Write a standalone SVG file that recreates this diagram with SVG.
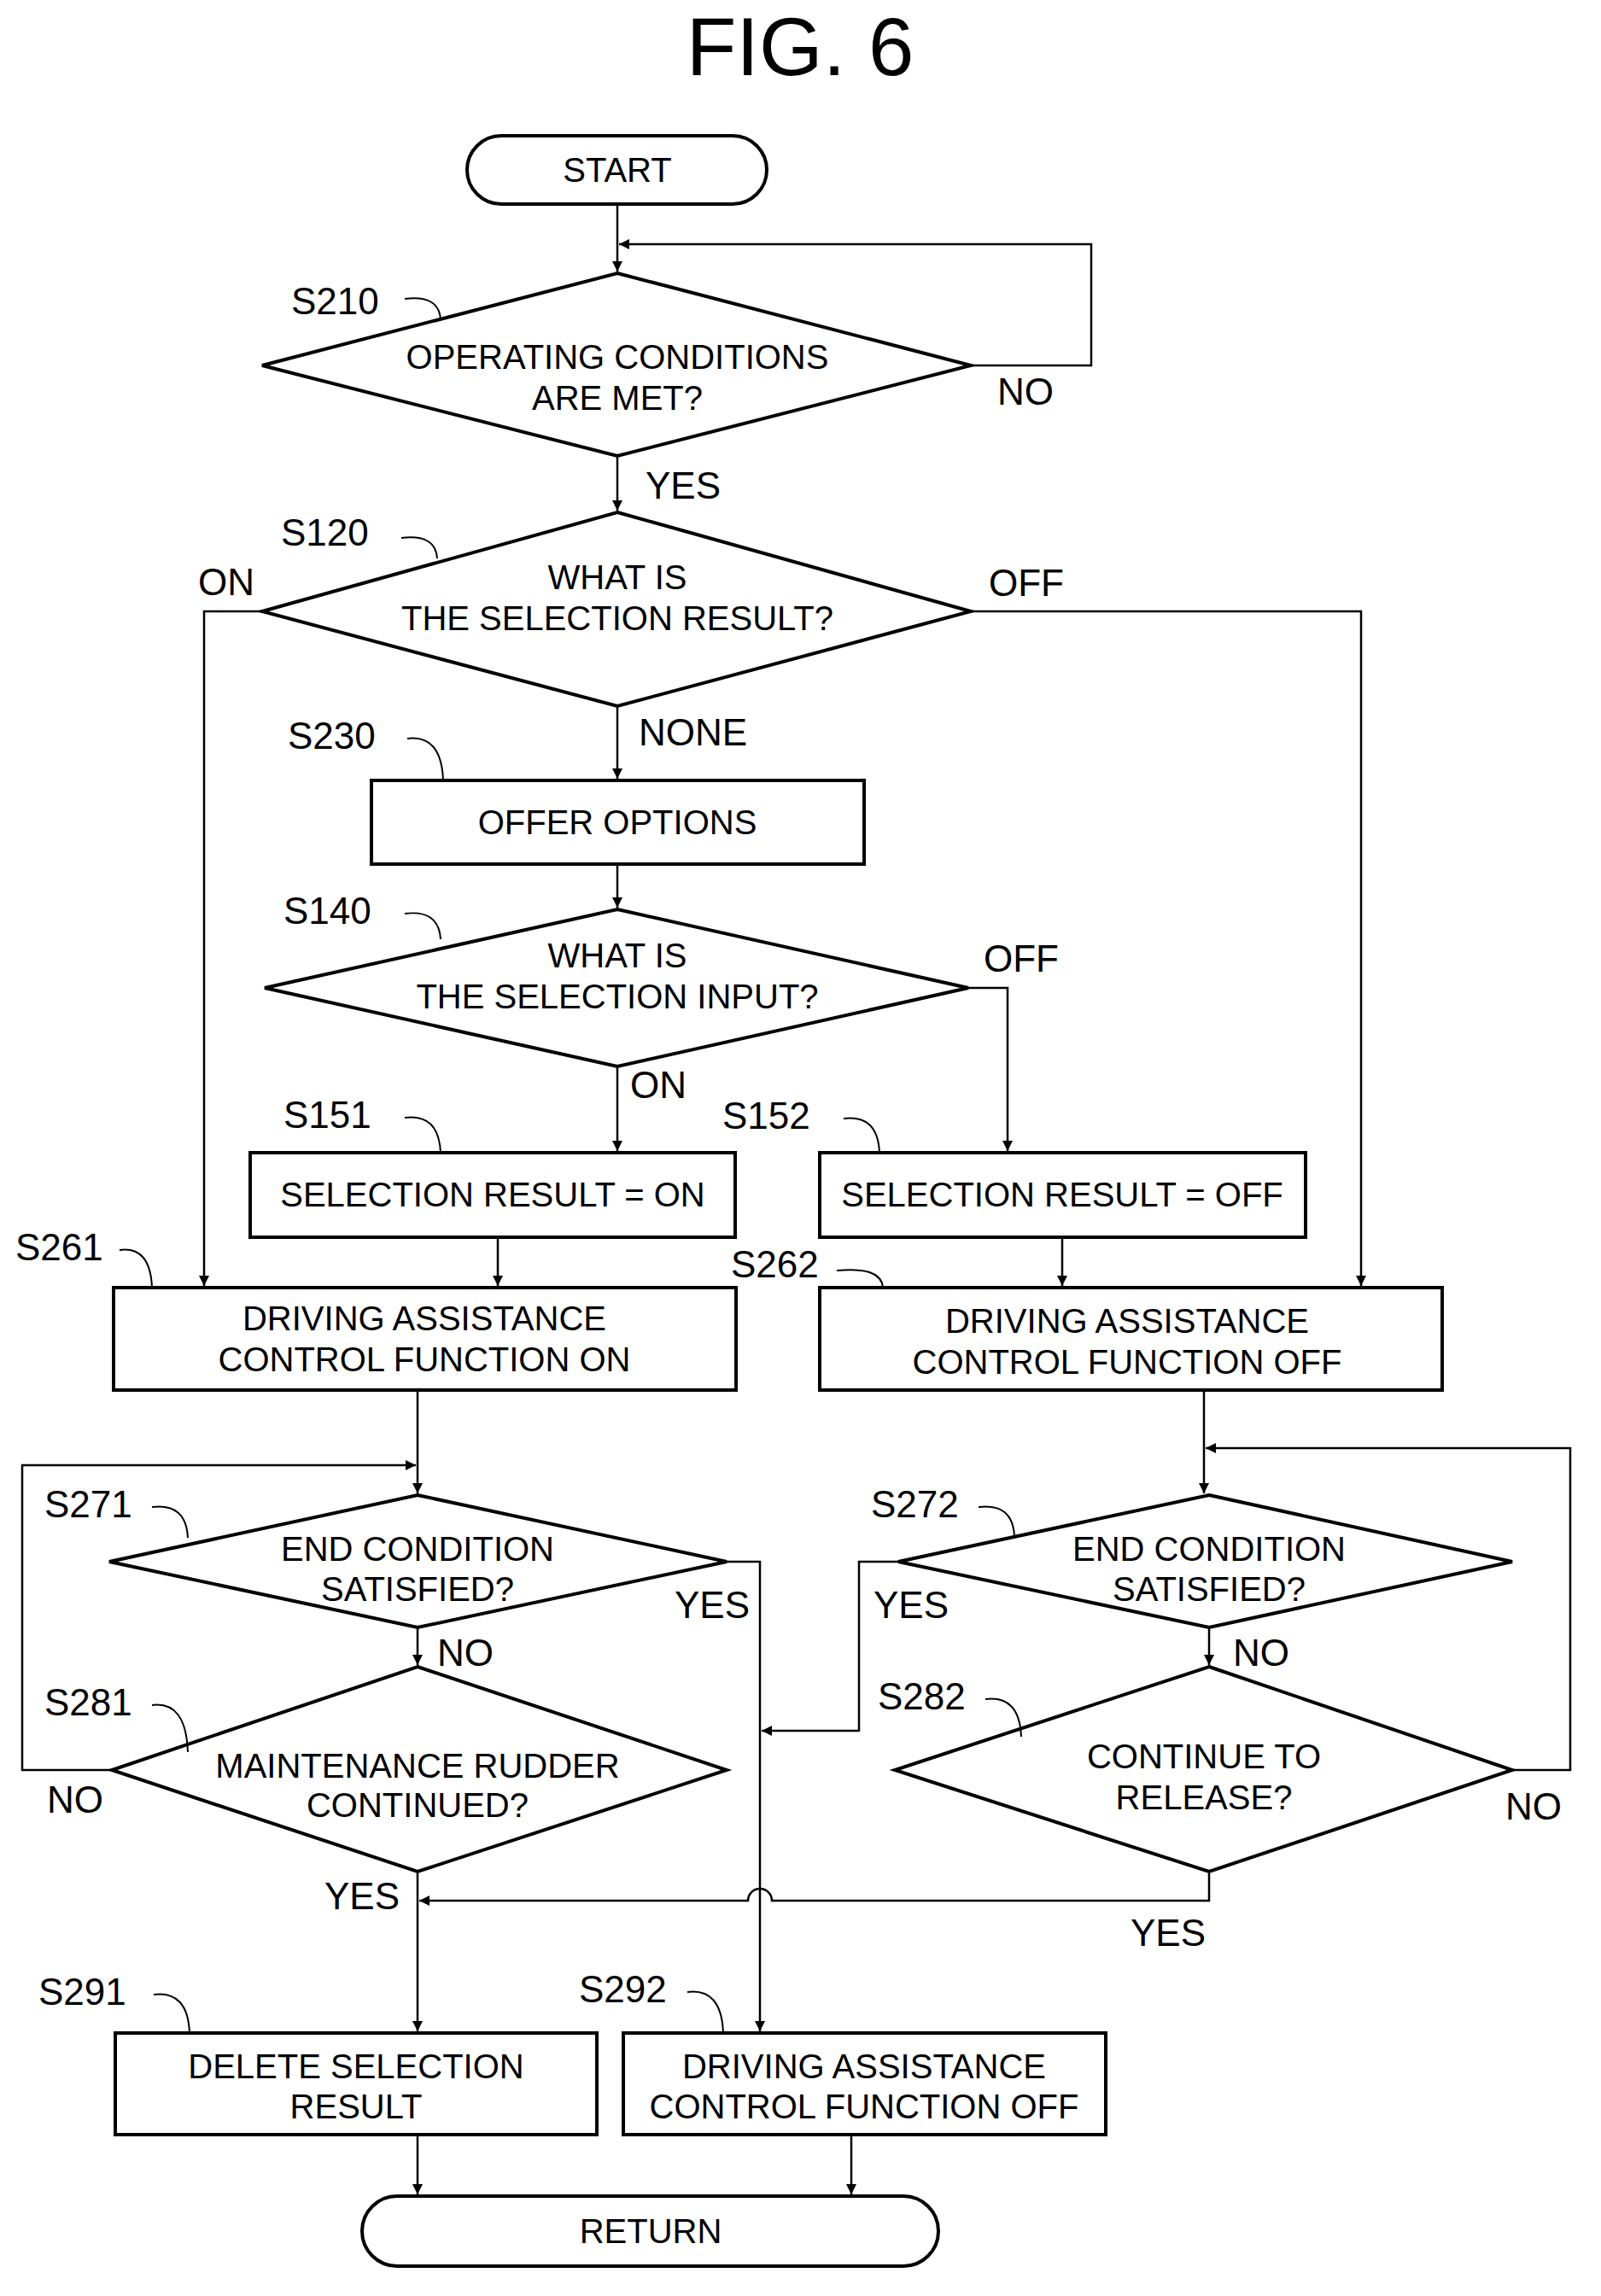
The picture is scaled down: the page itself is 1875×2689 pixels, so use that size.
<svg xmlns="http://www.w3.org/2000/svg" width="1875" height="2689" viewBox="0 0 1875 2689">
<style>
.s{fill:#fff;stroke:#000;stroke-width:4}
.c{fill:none;stroke:#000;stroke-width:2.5}
.q{fill:none;stroke:#000;stroke-width:2}
text{font-family:"Liberation Sans",Arial,sans-serif;fill:#000}
.t{font-size:40px;text-anchor:middle}
.l{font-size:44px}
</style>
<defs><marker id="a" markerWidth="14" markerHeight="14" refX="12" refY="6" orient="auto" markerUnits="userSpaceOnUse"><path d="M0,0 L12,6 L0,12 Z" fill="#000"/></marker></defs>
<text x="937" y="88" font-size="96" text-anchor="middle">FIG. 6</text>
<g id="start"><rect class="s" x="547" y="159" width="351" height="80" rx="40"/><text class="t" x="723" y="213">START</text></g>
<g id="S210"><path class="s" d="M723,320 L1137,428 L723,534 L307,428 Z"/><text class="t" x="723" y="432">OPERATING CONDITIONS</text><text class="t" x="723" y="480">ARE MET?</text><text class="l" x="341" y="368">S210</text><path class="q" d="M474,350 q40,-5 42,24"/></g>
<g id="S120"><path class="s" d="M723,600 L1137,716 L723,827 L307,716 Z"/><text class="t" x="723" y="690">WHAT IS</text><text class="t" x="723" y="738">THE SELECTION RESULT?</text><text class="l" x="329" y="639">S120</text><path class="q" d="M470,630 q40,-5 42,24"/></g>
<g id="S230"><rect class="s" x="435" y="914" width="577" height="98"/><text class="t" x="723" y="977">OFFER OPTIONS</text><text class="l" x="337" y="877">S230</text><path class="q" d="M477,865 q40,-5 42,49"/></g>
<g id="S140"><path class="s" d="M723,1065 L1134,1157 L723,1249 L310,1157 Z"/><text class="t" x="723" y="1133">WHAT IS</text><text class="t" x="723" y="1181">THE SELECTION INPUT?</text><text class="l" x="332" y="1082">S140</text><path class="q" d="M474,1070 q40,-5 42,30"/></g>
<g id="S151"><rect class="s" x="293" y="1350" width="568" height="99"/><text class="t" x="577" y="1413">SELECTION RESULT = ON</text><text class="l" x="332" y="1321">S151</text><path class="q" d="M474,1309 q40,-5 42,41"/></g>
<g id="S152"><rect class="s" x="960" y="1350" width="569" height="99"/><text class="t" x="1244" y="1413">SELECTION RESULT = OFF</text><text class="l" x="846" y="1322">S152</text><path class="q" d="M988,1310 q40,-5 42,40"/></g>
<g id="S261"><rect class="s" x="133" y="1508" width="729" height="120"/><text class="t" x="497" y="1558">DRIVING ASSISTANCE</text><text class="t" x="497" y="1606">CONTROL FUNCTION ON</text><text class="l" x="18" y="1476">S261</text><path class="q" d="M140,1464 q36,-5 38,44"/></g>
<g id="S262"><rect class="s" x="960" y="1508" width="729" height="120"/><text class="t" x="1320" y="1561">DRIVING ASSISTANCE</text><text class="t" x="1320" y="1609">CONTROL FUNCTION OFF</text><text class="l" x="856" y="1496">S262</text><path class="q" d="M980,1488 q52,-5 54,20"/></g>
<g id="S271"><path class="s" d="M489,1751 L851,1829 L489,1906 L128,1829 Z"/><text class="t" x="489" y="1828">END CONDITION</text><text class="t" x="489" y="1875">SATISFIED?</text><text class="l" x="52" y="1777">S271</text><path class="q" d="M178,1765 q40,-5 42,36"/></g>
<g id="S281"><path class="s" d="M489,1952 L851,2073 L489,2192 L131,2073 Z"/><text class="t" x="489" y="2082">MAINTENANCE RUDDER</text><text class="t" x="489" y="2128">CONTINUED?</text><text class="l" x="52" y="2009">S281</text><path class="q" d="M178,1997 q40,-5 42,55"/></g>
<g id="S272"><path class="s" d="M1416,1751 L1771,1829 L1416,1906 L1052,1829 Z"/><text class="t" x="1416" y="1828">END CONDITION</text><text class="t" x="1416" y="1875">SATISFIED?</text><text class="l" x="1020" y="1777">S272</text><path class="q" d="M1146,1765 q40,-5 42,34"/></g>
<g id="S282"><path class="s" d="M1416,1952 L1771,2073 L1416,2192 L1048,2073 Z"/><text class="t" x="1410" y="2071">CONTINUE TO</text><text class="t" x="1410" y="2119">RELEASE?</text><text class="l" x="1028" y="2002">S282</text><path class="q" d="M1154,1990 q40,-5 42,44"/></g>
<g id="S291"><rect class="s" x="135" y="2381" width="564" height="119"/><text class="t" x="417" y="2434">DELETE SELECTION</text><text class="t" x="417" y="2481">RESULT</text><text class="l" x="45" y="2348">S291</text><path class="q" d="M180,2336 q40,-5 42,45"/></g>
<g id="S292"><rect class="s" x="730" y="2381" width="565" height="119"/><text class="t" x="1012" y="2434">DRIVING ASSISTANCE</text><text class="t" x="1012" y="2481">CONTROL FUNCTION OFF</text><text class="l" x="678" y="2345">S292</text><path class="q" d="M805,2333 q40,-5 42,48"/></g>
<g id="return"><rect class="s" x="424" y="2572" width="675" height="82" rx="41"/><text class="t" x="762" y="2627">RETURN</text></g>
<g id="connectors">
<path class="c" d="M723,239 V318" marker-end="url(#a)"/>
<path class="c" d="M1137,428 H1278 V286 H725" marker-end="url(#a)"/>
<path class="c" d="M723,534 V598" marker-end="url(#a)"/>
<path class="c" d="M307,716 H239 V1506" marker-end="url(#a)"/>
<path class="c" d="M1137,716 H1594 V1506" marker-end="url(#a)"/>
<path class="c" d="M723,827 V912" marker-end="url(#a)"/>
<path class="c" d="M723,1012 V1063" marker-end="url(#a)"/>
<path class="c" d="M723,1249 V1348" marker-end="url(#a)"/>
<path class="c" d="M1134,1157 H1180 V1348" marker-end="url(#a)"/>
<path class="c" d="M583,1449 V1506" marker-end="url(#a)"/>
<path class="c" d="M1244,1449 V1506" marker-end="url(#a)"/>
<path class="c" d="M489,1628 V1749" marker-end="url(#a)"/>
<path class="c" d="M131,2073 H26 V1716 H487" marker-end="url(#a)"/>
<path class="c" d="M489,1906 V1950" marker-end="url(#a)"/>
<path class="c" d="M851,1829 H890 V2379" marker-end="url(#a)"/>
<path class="c" d="M489,2192 V2379" marker-end="url(#a)"/>
<path class="c" d="M1410,1628 V1749" marker-end="url(#a)"/>
<path class="c" d="M1771,2073 H1839 V1696 H1412" marker-end="url(#a)"/>
<path class="c" d="M1416,1906 V1950" marker-end="url(#a)"/>
<path class="c" d="M1052,1829 H1006 V2027 H892" marker-end="url(#a)"/>
<path class="c" d="M1416,2192 V2226 H904 A14,14 0 0 0 876,2226 H491" marker-end="url(#a)"/>
<path class="c" d="M489,2500 V2570" marker-end="url(#a)"/>
<path class="c" d="M997,2500 V2570" marker-end="url(#a)"/>
<text class="l" x="1168" y="474">NO</text>
<text class="l" x="756" y="584">YES</text>
<text class="l" x="232" y="697">ON</text>
<text class="l" x="1158" y="698">OFF</text>
<text class="l" x="748" y="873">NONE</text>
<text class="l" x="1152" y="1138">OFF</text>
<text class="l" x="738" y="1286">ON</text>
<text class="l" x="790" y="1895">YES</text>
<text class="l" x="512" y="1951">NO</text>
<text class="l" x="1023" y="1895">YES</text>
<text class="l" x="1444" y="1951">NO</text>
<text class="l" x="55" y="2123">NO</text>
<text class="l" x="1763" y="2131">NO</text>
<text class="l" x="380" y="2236">YES</text>
<text class="l" x="1324" y="2279">YES</text>
</g>
</svg>
